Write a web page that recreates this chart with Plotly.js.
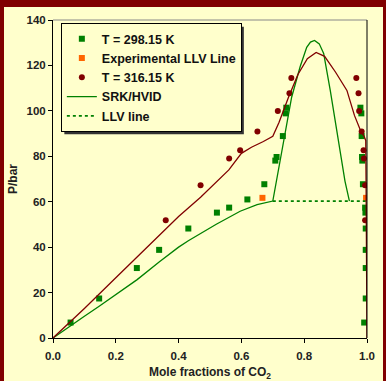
<!DOCTYPE html>
<html><head><meta charset="utf-8">
<script src="https://cdn.plot.ly/plotly-3.0.1.min.js"></script>
<style>
html,body{margin:0;padding:0;background:#800000;width:386px;height:381px;overflow:hidden;}
#chart{position:absolute;left:4px;top:7px;width:379px;height:374px;}
</style></head><body>
<div id="chart"></div>
<script>
// T = 298.15 K experimental
const x298 = [0.056,0.147,0.267,0.338,0.431,0.522,0.561,0.619,0.673,0.708,0.712,0.732,0.741,0.743,
              0.979,0.982,0.983,0.984,0.985,0.987,0.994,0.995,0.996,0.996,0.996,0.996,0.991];
const y298 = [6.8,17.4,30.8,38.8,48.2,55.2,57.4,61.0,67.7,78.1,79.7,88.9,98.9,101.4,
              101.4,98.9,88.9,79.7,78.1,67.7,57.4,55.2,48.2,38.8,30.8,17.4,6.8];
// Experimental LLV line
const xLLV = [0.667,0.997];
const yLLV = [61.7,61.7];
// T = 316.15 K experimental
const x316 = [0.359,0.470,0.561,0.596,0.651,0.716,0.753,0.759,0.966,0.973,0.975,0.983,0.989,0.990,0.994,0.994];
const y316 = [51.8,67.3,79.0,82.7,90.9,99.9,107.8,114.5,114.5,107.8,99.9,90.9,82.7,79.0,67.3,51.8];
// SRK/HVID model at 298.15 K
const xSRK = [0,0.05,0.1,0.147,0.2,0.268,0.338,0.4,0.431,0.52,0.596,0.65,0.7,
              0.72,0.74,0.76,0.787,0.808,0.82,0.833,0.848,0.862,0.883,0.909,0.93,0.944];
const ySRK = [0,4.9,9.6,14.0,19.0,25.7,33.5,40.0,42.8,50.1,55.8,58.7,60.3,
              76,92,106,119.4,128,130.3,131,129.5,125.3,109,85.7,69,60.3];
// SRK/HVID model at 316.15 K
const xSRK2 = [0,0.1,0.2,0.3,0.4,0.47,0.56,0.6,0.632,0.67,0.7,0.72,0.75,0.78,0.81,0.838,0.865,0.9,0.936,0.96,0.979,0.99,0.996,0.997,0.998,0.999,1.0];
const ySRK2 = [0,13,26.5,40,53.5,62,74,81.3,84,86.5,88.8,95,106,116,123,125.7,124,117,109,98,91.5,89,87,70,40,10,0];
// LLV line model
const xLLVline = [0.7,1.0];
const yLLVline = [60.3,60.3];

const green = '#008000', dred = '#800000', orange = '#FF6600';
const traces = [
  {x:x298,y:y298,type:'scatter',mode:'markers',name:'T = 298.15 K',marker:{symbol:'square',size:6,color:green}},
  {x:xLLV,y:yLLV,type:'scatter',mode:'markers',name:'Experimental LLV Line',marker:{symbol:'square',size:6,color:orange}},
  {x:x316,y:y316,type:'scatter',mode:'markers',name:'T = 316.15 K',marker:{symbol:'circle',size:6,color:dred}},
  {x:xSRK,y:ySRK,type:'scatter',mode:'lines',name:'SRK/HVID',line:{color:green,width:1.3}},
  {x:xLLVline,y:yLLVline,type:'scatter',mode:'lines',name:'LLV line',line:{color:green,width:1.8,dash:'3px,3px'}},
  {x:xSRK2,y:ySRK2,type:'scatter',mode:'lines',showlegend:false,line:{color:dred,width:1.3}}
];
const layout = {
  width:379,height:374,
  margin:{l:49,r:16,t:13,b:43},
  paper_bgcolor:'#FFFFCC',plot_bgcolor:'#FFFFCC',
  font:{family:'"Liberation Sans", Arial, sans-serif',size:11,color:'#222'},
  showlegend:true,
  legend:{x:0.025,y:0.99,xanchor:'left',yanchor:'top',bgcolor:'#FFFFCC',bordercolor:'#000',borderwidth:1,
          font:{family:'"Liberation Sans", Arial, sans-serif',size:12.5,color:'#111',weight:'bold'},tracegroupgap:0},
  xaxis:{range:[0,1],dtick:0.2,tickformat:'.1f',showgrid:false,zeroline:false,showline:true,linecolor:'#000',linewidth:1,
         ticks:'outside',ticklen:4,tickcolor:'#000',tickfont:{size:11.5,weight:'bold'},ticklabelstandoff:3,
         title:{text:'Mole fractions of CO<sub>2</sub>',font:{size:12,weight:'bold'},standoff:7}},
  yaxis:{range:[0,140],dtick:20,showgrid:false,zeroline:false,showline:true,linecolor:'#000',linewidth:1,
         ticks:'outside',ticklen:4,tickcolor:'#000',tickfont:{size:11.5,weight:'bold'},
         title:{text:'P/bar',font:{size:12,weight:'bold'},standoff:6}},
  shapes:[
    {type:'line',xref:'paper',yref:'paper',x0:0,x1:1,y0:1,y1:1,line:{color:'#888',width:1}},
    {type:'line',xref:'paper',yref:'paper',x0:1,x1:1,y0:0,y1:1,line:{color:'#000',width:1}}
  ],
  hovermode:false
};
Plotly.newPlot('chart',traces,layout,{displayModeBar:false,staticPlot:true}).then(function(gd){
  // legend drop shadow, placed from the rendered legend box
  const bg = gd.querySelector('.legend .bg');
  if(!bg) return;
  const r = bg.getBoundingClientRect();
  const c = gd.getBoundingClientRect();
  const s = gd._fullLayout._size;
  const px = v => (v - c.left - s.l)/s.w;
  const py = v => 1 - (v - c.top - s.t)/s.h;
  const sh = {type:'rect',xref:'paper',yref:'paper',layer:'below',
    x0:px(r.left+3),x1:px(r.right+2.5),y0:py(r.bottom+2.5),y1:py(r.top+3),
    fillcolor:'#333',line:{width:0}};
  Plotly.relayout(gd,{shapes:layout.shapes.concat([sh])});
});
</script>
</body></html>
